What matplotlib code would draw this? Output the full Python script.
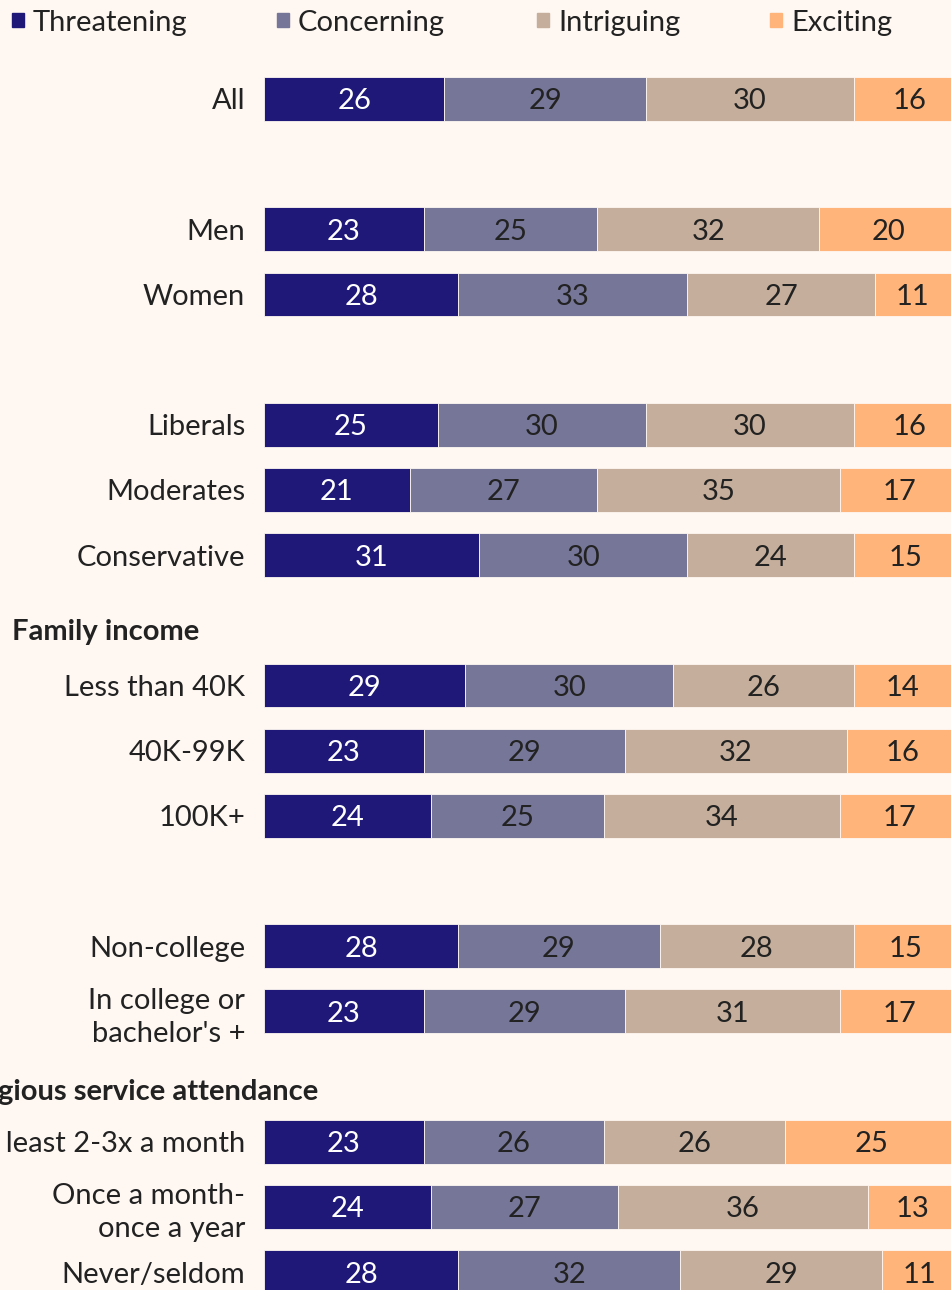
import matplotlib
matplotlib.use("Agg")
import matplotlib.pyplot as plt
import matplotlib.transforms as mtransforms
from matplotlib.patches import Rectangle
import numpy as np

plt.rcParams['font.family'] = ['Lato', 'DejaVu Sans']

series = ["Threatening", "Concerning", "Intriguing", "Exciting"]
colors = ["#1f1878", "#767699", "#c5ae9b", "#ffb57a"]
bg = "#fef7f2"

# groups: (header, labels) -- some headers are blank in the picture
groups = [
    ("", ["All"]),
    ("", ["Men", "Women"]),
    ("", ["Liberals", "Moderates", "Conservative"]),
    ("Family income", ["Less than 40K", "40K-99K", "100K+"]),
    ("", ["Non-college", "In college or\nbachelor's +"]),
    ("Religious service attendance", ["At least 2-3x a month", "Once a month-\nonce a year", "Never/seldom"]),
]

threatening = [26, 23, 28, 25, 21, 31, 29, 23, 24, 28, 23, 23, 24, 28]
concerning = [29, 25, 33, 30, 27, 30, 30, 29, 25, 29, 29, 26, 27, 32]
intriguing = [30, 32, 27, 30, 35, 24, 26, 32, 34, 28, 31, 26, 36, 29]
exciting = [16, 20, 11, 16, 17, 15, 14, 16, 17, 15, 17, 25, 13, 11]
values = [threatening, concerning, intriguing, exciting]

# row positions: one empty row before each group (header slot)
labels, ypos, headers = [], [], []
row = 0
for gi, (head, items) in enumerate(groups):
    if gi > 0:
        row += 1
        headers.append((head, row))
    for it in items:
        labels.append(it)
        ypos.append(row)
        row += 1
ypos = np.array(ypos)

W, H = 951, 1290
fs = 21
fig = plt.figure(figsize=(W / 100, H / 100), dpi=100, facecolor=bg)
ax = fig.add_axes([264 / W, 0, 694 / W, 1])
ax.set_facecolor(bg)

left = np.zeros(len(labels))
for i, (name, vals) in enumerate(zip(series, values)):
    ax.barh(ypos, vals, left=left, height=0.675, color=colors[i],
            edgecolor=bg, linewidth=0.6)
    for y, l, v in zip(ypos, left, vals):
        ax.text(l + v / 2, y, str(v), ha='center', va='center_baseline',
                fontsize=fs, color='white' if i == 0 else '#222222')
    left += np.array(vals)

ax.set_xlim(0, 100)
u = 65.17
ax.set_ylim(18 + 18 / u, -99 / u)
ax.set_yticks(ypos)
ax.set_yticklabels(labels, fontsize=fs, color='#222222', linespacing=1.32)
ax.tick_params(axis='y', length=0, pad=13.5)
ax.set_xticks([])
for s in ax.spines.values():
    s.set_visible(False)

trans = mtransforms.blended_transform_factory(fig.transFigure, ax.transData)
for head, first in headers:
    if not head:
        continue
    if head.startswith("Religious"):
        fig.text(318 / W, first - 0.8, head, transform=trans, ha='right', va='center_baseline',
                 fontsize=fs, fontweight='bold', color='#222222')
    else:
        fig.text(12 / W, first - 0.86, head, transform=trans, ha='left', va='center_baseline',
                 fontsize=fs, fontweight='bold', color='#222222')

# legend
leg_x = [12, 277, 537, 770]
for x, name, c in zip(leg_x, series, colors):
    fig.patches.append(Rectangle((x / W, 1 - 27 / H), 12 / W, 14 / H,
                                 transform=fig.transFigure, color=c))
    fig.text((x + 21) / W, 1 - 20 / H, name, ha='left', va='center_baseline',
             fontsize=fs, color='#222222')

fig.savefig("out.png", dpi=100, facecolor=bg)
